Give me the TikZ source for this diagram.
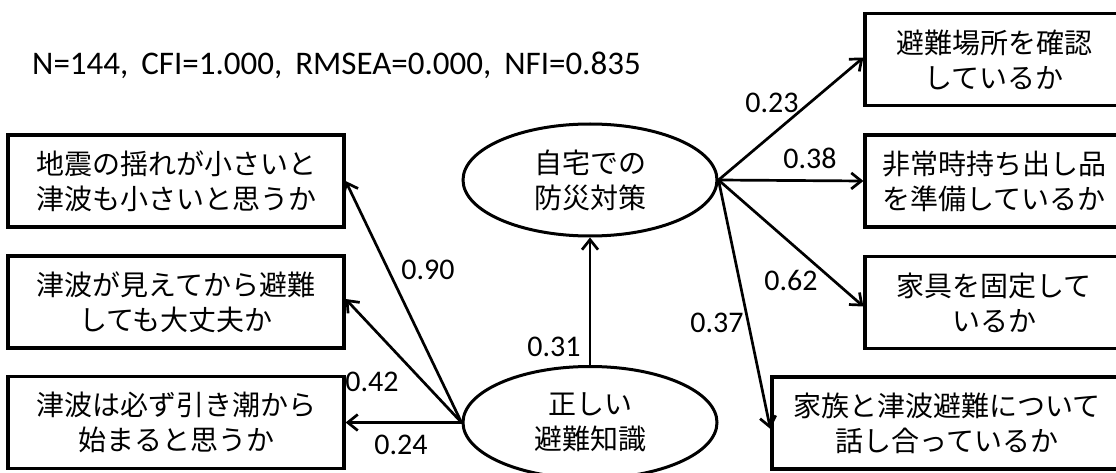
\documentclass[tikz,border=0pt]{standalone}
\usepackage{fontspec}
\setmainfont{Carlito}
\newfontfamily\jp{Noto Sans CJK JP}
\usetikzlibrary{shapes.geometric,arrows.meta}
\tikzset{
  item/.style={draw=black, line width=3.2pt, rectangle, inner sep=0pt, minimum height=92pt,
    align=center, font=\jp\fontsize{28}{35}\selectfont},
  latent/.style={draw=black, line width=3pt, ellipse, inner sep=0pt, minimum width=254pt,
    minimum height=112pt, align=center, font=\jp\fontsize{28}{35}\selectfont},
  path/.style={draw=black, line width=2.7pt, -{Straight Barb[length=10pt,width=16pt,line width=2.7pt]}},
  coef/.style={font=\fontsize{30}{36}\selectfont, inner sep=0pt}
}
\begin{document}
\begin{tikzpicture}[x=1pt,y=-1pt]
\useasboundingbox (0,0) rectangle (1116,473);
\clip (0,0) rectangle (1116,473);
\fill[white] (0,0) rectangle (1116,473);

\node[anchor=base west, inner sep=0pt, font=\fontsize{33}{40}\selectfont] (fit) at (32,75)
  {N=144,\, CFI=1.000,\, RMSEA=0.000,\, NFI=0.835};

% left items
\node[item, minimum width=336pt] (L1) at (176,181) {地震の揺れが小さいと\\津波も小さいと思うか};
\node[item, minimum width=336pt] (L2) at (176,302) {津波が見えてから避難\\しても大丈夫か};
\node[item, minimum width=336pt] (L3) at (176,422.5) {津波は必ず引き潮から\\始まると思うか};

% latent variables
\node[latent] (E1) at (590,180) {自宅での\\防災対策};
\node[latent] (E2) at (590,422.5) {正しい\\避難知識};

% right items
\node[item, minimum width=258pt] (R1) at (994,59.5) {避難場所を確認\\しているか};
\node[item, minimum width=258pt] (R2) at (994,181) {非常時持ち出し品\\を準備しているか};
\node[item, minimum width=258pt] (R3) at (994,302.5) {家具を固定して\\いるか};
\node[item, minimum width=350pt] (R4) at (947,423) {家族と津波避難について\\話し合っているか};

% paths
\draw[path] (E2.west) -- (L1.east);
\draw[path] (E2.west) -- ([yshift=3pt]L2.east);
\draw[path] (E2.west) -- (L3.east);
\draw[path] (E2.north) -- (E1.south);
\draw[path] (E1.east) -- ([yshift=2pt]R1.west);
\draw[path] (E1.east) -- (R2.west);
\draw[path] (E1.east) -- ([yshift=-4pt]R3.west);
\draw[path] (E1.east) -- ([yshift=-6pt]R4.west);

% coefficients
\node[coef] (c1) at (428,270) {0.90};
\node[coef] (c2) at (372,382) {0.42};
\node[coef] (c3) at (401,445) {0.24};
\node[coef] (c4) at (554,347) {0.31};
\node[coef] (c5) at (772,103) {0.23};
\node[coef] (c6) at (810,158) {0.38};
\node[coef] (c7) at (791,280) {0.62};
\node[coef] (c8) at (717,323) {0.37};
\end{tikzpicture}
\end{document}
